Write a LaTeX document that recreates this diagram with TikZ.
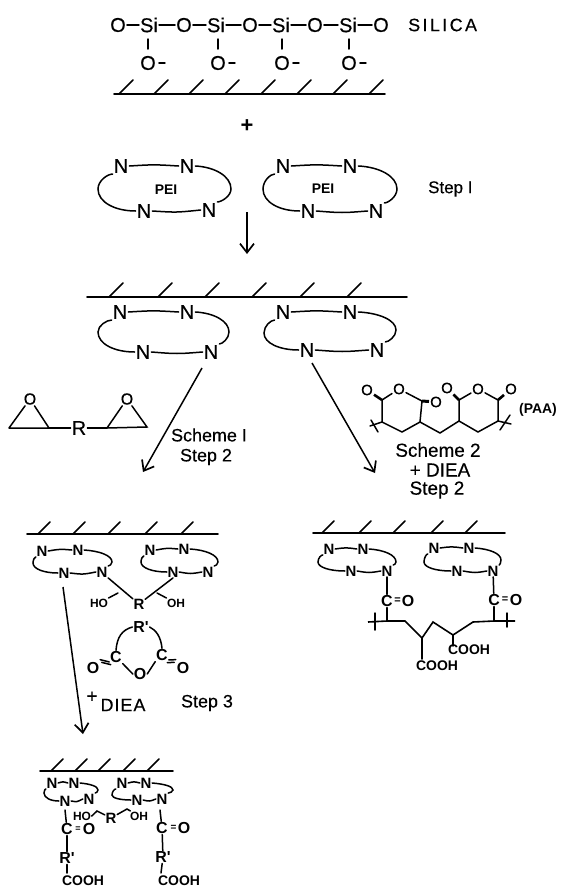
\documentclass[tikz,border=0pt]{standalone}
\usepackage{fontspec}
\setmainfont{Liberation Sans}[FakeBold=0.4]
\newfontfamily\lsbase{Liberation Sans}
\newcommand{\lsb}{\lsbase\bfseries}
\usetikzlibrary{arrows.meta,calc}
\tikzset{
  bond/.style={line width=1.5bp,line cap=round},
  hatch/.style={line width=1.6bp,line cap=round},
  atom/.style={inner sep=1bp,font=\fontsize{20}{20}\selectfont},
  atomb/.style={inner sep=0.6bp,font=\fontsize{15}{15}\lsb},
  atomc/.style={inner sep=0.8bp,font=\fontsize{16}{16}\lsb},
  atomm/.style={inner sep=1bp,font=\fontsize{16}{16}\selectfont},
  lab/.style={inner sep=0pt,font=\fontsize{18}{18}\selectfont},
  labm/.style={inner sep=0pt,font=\fontsize{19}{19}\selectfont},
  labs/.style={inner sep=0pt,font=\fontsize{14}{14}\lsb},
  labt/.style={inner sep=0.6bp,font=\fontsize{12}{12}\lsb},
  rarrow/.style={line width=1.5bp,-{Straight Barb[length=9bp,width=14bp,line width=1.7bp]}},
}
% prefix, style, TL, TR, BL, BR, left extreme, right extreme
\newcommand{\peiring}[8]{%
  \node[#2] (#1tl) at (#3) {N};
  \node[#2] (#1tr) at (#4) {N};
  \node[#2] (#1bl) at (#5) {N};
  \node[#2] (#1br) at (#6) {N};
  \coordinate (#1l) at (#7);
  \coordinate (#1r) at (#8);
  \draw[bond] (#1tl.east) .. controls ($(#1tl.east)!.5!(#1tr.west)+(0,-1.5)$) .. (#1tr.west);
  \draw[bond] (#1bl.east) .. controls ($(#1bl.east)!.5!(#1br.west)+(0,2)$) .. (#1br.west);
  \draw[bond] (#1tr.east) .. controls ($(#1tr.east)!.55!(#1r |- #1tr.east)+(0,1)$) and ($(#1r)!.55!(#1r |- #1tr.east)$) .. (#1r)
     .. controls ($(#1r)!.55!(#1r |- #1br.north east)$) and ($(#1br.north east)!.3!(#1r |- #1br.north east)$) .. (#1br.north east);
  \draw[bond] (#1tl.south west) .. controls ($(#1tl.south west)!.35!(#1l |- #1tl.south west)$) and ($(#1l)!.55!(#1l |- #1tl.south west)$) .. (#1l)
     .. controls ($(#1l)!.6!(#1l |- #1bl.west)$) and ($(#1bl.west)!.55!(#1l |- #1bl.west)$) .. (#1bl.west);
}
% y, x start, x end, rise, list of hatch-top x
\newcommand{\surfline}[5]{%
  \draw[hatch] (#2,#1) -- (#3,#1);
  \foreach \hx in {#5} \draw[hatch] (\hx,#1-#4) -- (\hx-#4,#1);
}
\begin{document}
\begin{tikzpicture}[x=1bp,y=-1bp]
\useasboundingbox (0,0) rectangle (564,889);
% ---------- silica
\foreach \nm/\tx/\px in {o0/O/118,s1/Si/149,o1/O/184,s2/Si/216,o2/O/250,s3/Si/281,o3/O/315,s4/Si/348,o4/O/381}
  \node[atom] (\nm) at (\px,25) {\tx};
\foreach \a/\b in {o0/s1,s1/o1,o1/s2,s2/o2,o2/s3,s3/o3,o3/s4,s4/o4}
  \draw[bond] (\a) -- (\b);
\node[lab,anchor=west] (silica) at (408,25) {S\kern2.4bp I\kern2.4bp L\kern2.4bp I\kern2.4bp C\kern2.4bp A};
\foreach \nm/\up/\px in {d1/s1/148,d2/s2/218,d3/s3/282,d4/s4/349}{
  \node[atom] (\nm) at (\px,63) {O};
  \draw[bond] (\px,39) -- (\px,49);
  \draw[bond] ([xshift=2bp]\nm.east) -- ++(6,0);
}
\surfline{94}{114}{385}{14}{133,168,203,239,275,311,347,383}
\node[atom,font=\fontsize{22}{22}\lsb] (plus) at (247,126) {+};
% ---------- PEI rings
\peiring{a}{atom}{121,166}{187,166}{144,211}{209,210}{98,189}{231,189}
\peiring{b}{atom}{283,166}{350,166}{308,211}{376,211}{263,189}{397,189}
\node[labs] (pa) at (166,190) {PEI};
\node[labs] (pb) at (323,189) {PEI};
\node[lab,anchor=west,font=\fontsize{17}{17}\selectfont] (st1) at (428,189) {Step I};
\coordinate (ar0a) at (247,212);
\coordinate (ar0b) at (247,254);
\draw[rarrow] (ar0a) -- (ar0b);
% ---------- second level
\surfline{297}{87}{407}{14}{123,172,219,266,314,361}
\peiring{c}{atom}{120,312}{187,312}{143,352}{211,352}{98,332}{229,332}
\peiring{e}{atom}{283,312}{350,312}{307,350}{377,350}{264,333}{396,330}
\coordinate (ar1) at (143,472);
\coordinate (ar2) at (375,473);
\draw[rarrow] (202,368) -- (ar1);
\draw[rarrow] (312,363) -- (ar2);
% ---------- diepoxide
\node[atomm] (eo1) at (30,399) {O};
\node[atomm] (eo2) at (127,399) {O};
\node[atom] (er) at (79,428) {R};
\coordinate (e1a) at (9,428);
\coordinate (e1b) at (49,428);
\coordinate (e2a) at (107,428);
\coordinate (e2b) at (147,427);
\draw[bond] (e1a) -- (e1b) -- (eo1) -- (e1a);
\draw[bond] (e2a) -- (e2b) -- (eo2) -- (e2a);
\draw[bond] (e1b) -- (er);
\draw[bond] (er) -- (e2a);
\node[lab] (sc1) at (209,435) {Scheme I};
\node[lab] (sc1s) at (206,457) {Step 2};
% ---------- PAA
\foreach \nm/\px/\py in {po1/367/390,po2/399/389,po3/436/402,po4/447/388,po5/478/389,po6/511/389}
  \node[atomm,font=\fontsize{15}{15}\selectfont] (\nm) at (\px,\py) {O};
\foreach \nm/\px/\py in {k1/382/400,k2/422/401,k3/459/400,k4/498/400,m1/382/422,m2/402/432,m3/420/422,m4/440/433,m5/459/421,m6/478/432,m7/498/421,x1/370/426,x2/511/424}
  \coordinate (\nm) at (\px,\py);
\draw[bond] (x1) -- (m1) -- (m2) -- (m3) -- (m4) -- (m5) -- (m6) -- (m7) -- (x2);
\draw[bond] (m1) -- (k1) -- (po2) -- (k2) -- (m3);
\draw[bond] (m5) -- (k3) -- (po5) -- (k4) -- (m7);
\draw[line width=2.6bp] (k1) -- (po1);
\draw[line width=3bp] (k2) -- (po3);
\draw[line width=2.6bp] (k3) -- (po4);
\draw[line width=2.6bp] (k4) -- (po6);
\draw[bond] (371,420) -- (378,432);
\draw[bond] (510,415) -- (500,430);
\node[labs] (paa) at (538,410) {(PAA)};
\node[labm] (sc2) at (438,450) {Scheme 2};
\node[labm] (diea) at (440,470) {+ DIEA};
\node[labm] (sc2s) at (437,490) {Step 2};
% ---------- left third level
\surfline{534}{27}{218}{12}{50,85,120,157,193}
\peiring{f}{atomb}{42,551}{78,550}{64,573}{102,572}{33,563}{112,562}
\peiring{g}{atomb}{150,550}{184,549}{173,572}{208,572}{141,562}{218,562}
\node[atomb] (lr) at (139,604) {R};
\node[labt] (lho) at (99,603) {HO};
\node[labt] (loh) at (176,603) {OH};
\coordinate (lb1) at (118,593);
\coordinate (lb2) at (157,593);
\draw[bond] (fbr.south east) -- (lr);
\draw[bond] (lb1) -- (lho);
\draw[bond] (gbl.south) -- (lr);
\draw[bond] (lb2) -- (loh);
% anhydride
\node[atomc] (rp) at (141,627) {R'};
\node[atomc] (cl) at (116,657) {C};
\node[atomc] (cr) at (162,655) {C};
\node[atomc] (ol) at (93,668) {O};
\node[atomc] (or) at (183,668) {O};
\node[atomc] (om) at (140,674) {O};
\draw[bond] (rp.west) .. controls (122,630) and (117,637) .. (cl.north);
\draw[bond] (rp.east) .. controls (156,630) and (161,637) .. (cr.north);
\draw[bond] (cl.south east) -- (om.west);
\draw[bond] (om.east) -- (cr.south west);
\draw[bond] ([yshift=1.7bp]cl.south west) -- ([yshift=1.7bp]ol.north east);
\draw[bond] ([xshift=1.5bp,yshift=-1bp]cl.south west) -- ([xshift=1.5bp,yshift=-1bp]ol.north east);
\draw[bond] ([yshift=1.7bp]cr.south east) -- ([yshift=1.7bp]or.north west);
\draw[bond] ([xshift=-1.5bp,yshift=-1bp]cr.south east) -- ([xshift=-1.5bp,yshift=-1bp]or.north west);
% arrow and step 3
\coordinate (ar3a) at (63,587);
\coordinate (ar3b) at (83,734);
\draw[rarrow] (ar3a) -- (ar3b);
\node[labm] (pl3) at (92,697) {+};
\node[lab] (diea3) at (123,705) {D\kern1bp I\kern1bp E\kern1bp A};
\node[lab] (st3) at (207,703) {Step 3};
% ---------- right third level
\surfline{533}{313}{505}{12}{334,371,405,443,477}
\peiring{h}{atomb}{329,549}{363,549}{351,571}{387,571}{318,562}{396,562}
\peiring{i}{atomb}{434,548}{469,548}{457,571}{493,571}{424,562}{501,560}
\node[atomc] (c1) at (387,601) {C};
\node[atomc] (c2) at (494,600) {C};
\node[atomc] (ox1) at (408,601) {O};
\node[atomc] (ox2) at (516,600) {O};
\node[atomb,font=\fontsize{11}{11}\lsb] (eq1) at (397.5,601) {=};
\node[atomb,font=\fontsize{11}{11}\lsb] (eq2) at (505,600) {=};
\foreach \nm/\px/\py in {y1/368/622,y2/387/621,y3/405/621,y4/422/638,y5/433/622,y6/453/635,y7/473/622,y8/494/621,y9/515/621,y10/422/659,y11/453/646}
  \coordinate (\nm) at (\px,\py);
\draw[line width=1.6bp] (y1) -- (y2) -- (y3) -- (y4) -- (y5) -- (y6) -- (y7) -- (y8) -- (y9);
\draw[bond] (375,613) -- (375,630);
\draw[bond] (507,613) -- (507,627);
\draw[bond] (hbr) -- (c1);
\draw[bond] (ibr) -- (c2);
\draw[bond] (c1) -- (y2);
\draw[bond] (c2) -- (y8);
\node[labs] (co1) at (437,666) {COOH};
\node[labs] (co2) at (469,650) {COOH};
\draw[bond] (y4) -- (y10);
\draw[bond] (y6) -- (y11);
% ---------- bottom level
\surfline{771}{40}{173}{12}{63,87,110,135,159}
\peiring{j}{atomb}{52,783}{74,783}{65,801}{89,799}{44,793}{98,790}
\peiring{l}{atomb}{122,783}{146,783}{137,800}{162,799}{112,795}{173,790}
\node[atomc] (bc1) at (67,829) {C};
\node[atomc] (bo1) at (89,829) {O};
\node[atomc] (brp1) at (67,858) {R'};
\node[labs] (bco1) at (83,881) {COOH};
\node[atomc] (bc2) at (162,828) {C};
\node[atomc] (bo2) at (184,828) {O};
\node[atomc] (brp2) at (163,857) {R'};
\node[labs] (bco2) at (179,881) {COOH};
\node[atomb,font=\fontsize{9}{9}\lsb] (beq1) at (78,829) {=};
\node[atomb,font=\fontsize{10}{10}\lsb] (beq2) at (173.5,828) {=};
\draw[bond] (65,810) -- (bc1);
\draw[bond] (bc1) -- (brp1);
\draw[bond] (brp1) -- (67,873);
\draw[bond] (160,810) -- (bc2);
\draw[bond] (bc2) -- (brp2);
\draw[bond] (brp2) -- (161,873);
\node[labt] (bho) at (82,816) {HO};
\node[labt] (boh) at (139,816) {OH};
\node[atomb] (brr) at (111,818) {R};
\coordinate (bk1) at (97,811);
\coordinate (bk2) at (127,809);
\draw[bond] (bho.east) -- (bk1) -- (brr);
\draw[bond] (brr) -- (bk2) -- (boh);
\end{tikzpicture}
\end{document}
